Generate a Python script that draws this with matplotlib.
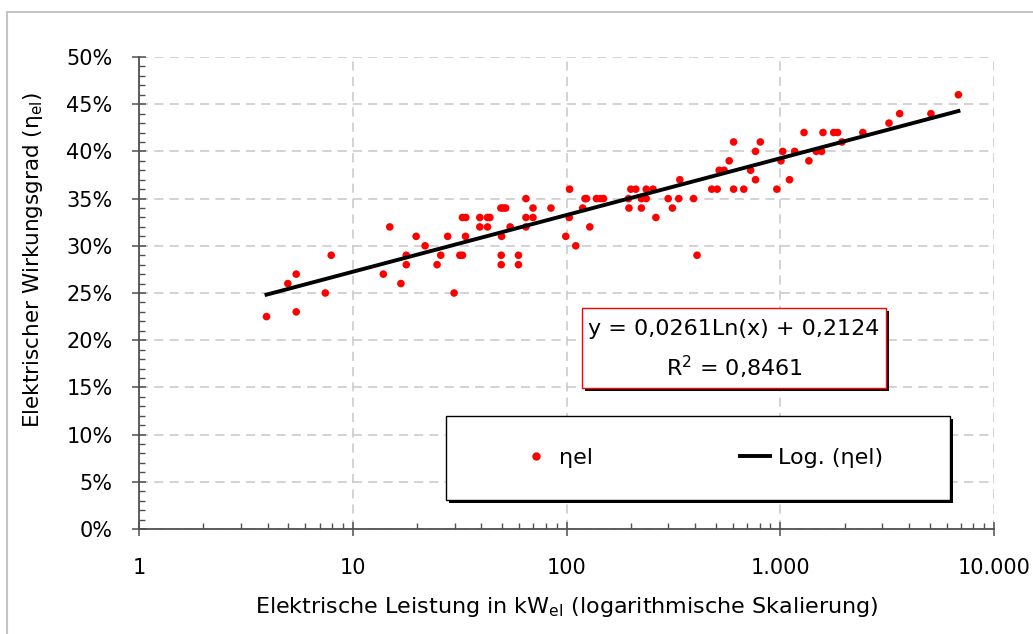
import numpy as np
from matplotlib import pyplot as plt
from matplotlib.patches import Rectangle
from matplotlib.lines import Line2D

plt.rcParams['font.family'] = ['DejaVu Sans']
plt.rcParams['mathtext.default'] = 'regular'

# Elektrische Leistung (kW_el) und elektrischer Wirkungsgrad (%)
leistung = [3.95, 4.97, 5.44, 5.44, 7.44, 7.93, 13.9, 14.9, 16.8, 17.8, 17.8, 19.8, 21.8, 24.8,
            25.8, 27.8, 29.8, 31.7, 32.6, 32.6, 33.8, 33.7, 39.3, 39.3, 42.7, 43.8, 42.7, 49.3,
            50.6, 51.9, 49.7, 49.5, 49.5, 54.5, 59.6, 59.6, 64.6, 64.6, 64.6, 69.7, 69.7, 84.6,
            99.2, 103.4, 103, 110.5, 119, 122, 124, 128.5, 138, 144, 149, 195, 196, 200, 211,
            224, 224, 236, 236, 254, 262, 299, 313, 335, 339, 393, 408, 478, 507, 518, 546, 577,
            605, 605, 675, 727, 766, 766, 807, 964, 1008, 1027, 1105, 1168, 1292, 1361, 1474,
            1561, 1585, 1778, 1855, 1943, 2434, 3226, 3620, 5068, 6816]
wirkungsgrad = [22.5, 26, 27, 23, 25, 29, 27, 32, 26, 29, 28, 31, 30, 28,
                29, 31, 25, 29, 29, 33, 33, 31, 33, 32, 33, 33, 32, 34,
                34, 34, 31, 29, 28, 32, 29, 28, 35, 33, 32, 34, 33, 34,
                31, 36, 33, 30, 34, 35, 35, 32, 35, 35, 35, 35, 34, 36, 36,
                35, 34, 35, 36, 36, 33, 35, 34, 35, 37, 35, 29, 36, 36, 38, 38, 39,
                41, 36, 36, 38, 40, 37, 41, 36, 39, 40, 37, 40, 42, 39, 40,
                40, 42, 42, 42, 41, 42, 43, 44, 44, 46]

# Trendlinie (Excel): y = 0,0261 Ln(x) + 0,2124
a_log = 0.0261
b_log = 0.2124
x_range = [3.95, 6816]

x_ticks = [1, 10, 100, 1000, 10000]
x_ticklabels = ['1', '10', '100', '1.000', '10.000']
y_ticks = [0, 5, 10, 15, 20, 25, 30, 35, 40, 45, 50]

W, H = 1033, 634


def fx(px):
    return px / W


def fy(py):
    return 1 - py / H


fig = plt.figure(figsize=(W / 100, H / 100), dpi=100)
ax = fig.add_axes([fx(139), fy(529), fx(994) - fx(139), fy(57) - fy(529)])

# Außenrahmen
fig.patches.append(Rectangle((fx(7), fy(640)), 1.1, fy(12) - fy(640), transform=fig.transFigure,
                             fill=False, edgecolor='#c4c4c4', linewidth=1.5))

ax.scatter(leistung, wirkungsgrad, s=30, color='#ff0000', edgecolors='none', zorder=3)
xt = np.geomspace(x_range[0], x_range[1], 200)
ax.plot(xt, (a_log * np.log(xt) + b_log) * 100, color='black', linewidth=2.8, zorder=4)

ax.set_xscale('log')
ax.set_xlim(1, 10000)
ax.set_ylim(0, 50)
ax.set_xticks(x_ticks)
ax.set_xticklabels(x_ticklabels)
ax.set_yticks(y_ticks)
ax.set_yticklabels([f'{v}%' for v in y_ticks])
ax.set_yticks(np.arange(0, 51, 1), minor=True)
ax.set_xticks([m * 10 ** d for d in range(4) for m in range(2, 10)], minor=True)
ax.xaxis.set_minor_formatter(plt.NullFormatter())

for s in ['top', 'right']:
    ax.spines[s].set_visible(False)
for s in ['left', 'bottom']:
    ax.spines[s].set_color('#505050')
    ax.spines[s].set_linewidth(1.3)

ax.tick_params(which='major', direction='inout', length=10, width=1.1, color='#505050',
               labelsize=15)
ax.tick_params(axis='y', which='major', pad=14)
ax.tick_params(axis='x', which='major', pad=16)
ax.tick_params(which='minor', direction='in', length=4.5, width=1, color='#505050')
ax.grid(True, which='major', color='#c8c8c8', linestyle=(0, (6, 4)), linewidth=1.1)
ax.set_axisbelow(True)

ax.set_xlabel('Elektrische Leistung in kW$_{el}$ (logarithmische Skalierung)', fontsize=16,
              va='center')
ax.xaxis.set_label_coords((567 - 139) / 855, -(607 - 529) / 472)
ax.set_ylabel('Elektrischer Wirkungsgrad (η$_{el}$)', fontsize=15.5, va='center')
ax.yaxis.set_label_coords(-(139 - 33) / 855, (529 - 260) / 472)

# Gleichung der Trendlinie
fig.patches.append(Rectangle((fx(585), fy(391)), fx(889) - fx(585), fy(311) - fy(391),
                             transform=fig.transFigure, facecolor='black', edgecolor='none', zorder=5))
fig.patches.append(Rectangle((fx(582), fy(388)), fx(886) - fx(582), fy(308) - fy(388),
                             transform=fig.transFigure, facecolor='white', edgecolor='#ff0000',
                             linewidth=1, zorder=6))
fig.text(fx(734), fy(329), 'y = 0,0261Ln(x) + 0,2124', fontsize=16, ha='center', va='center', zorder=7)
fig.text(fx(734), fy(367), 'R$^{2}$ = 0,8461', fontsize=16, ha='center', va='center', zorder=7)

# Legende
fig.patches.append(Rectangle((fx(449), fy(503)), fx(953) - fx(449), fy(419) - fy(503),
                             transform=fig.transFigure, facecolor='black', edgecolor='none', zorder=5))
fig.patches.append(Rectangle((fx(446), fy(500)), fx(950) - fx(446), fy(416) - fy(500),
                             transform=fig.transFigure, facecolor='white', edgecolor='black',
                             linewidth=1, zorder=6))
handles = [Line2D([], [], marker='o', linestyle='none', color='#ff0000', markersize=5),
           Line2D([], [], color='black', linewidth=2.8)]
leg = fig.legend(handles, ['ηel', 'Log. (ηel)'], loc='center', bbox_to_anchor=(fx(702), fy(458)),
                 ncol=2, frameon=False, fontsize=16, handlelength=1.35, handletextpad=0.35,
                 columnspacing=6.6)
leg.set_zorder(8)

plt.savefig('out.png', dpi=100)
